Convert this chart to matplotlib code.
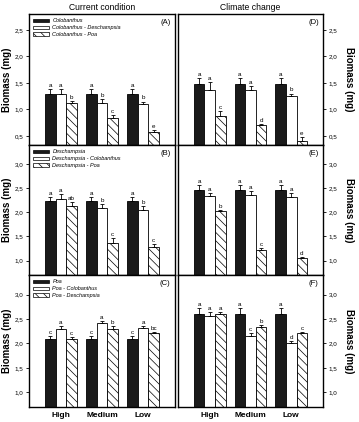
import matplotlib
matplotlib.use('Agg')
import matplotlib.pyplot as plt
from matplotlib.ticker import FuncFormatter
from matplotlib.patches import Patch
import numpy as np

plt.rcParams['font.family'] = ['Liberation Sans', 'DejaVu Sans']
plt.rcParams['hatch.linewidth'] = 0.5

levels = ['High', 'Medium', 'Low']

# rows: species alone, with 1st neighbour, with 2nd neighbour; cols: High, Medium, Low
colo_cur = [[1.30, 1.30, 1.30], [1.30, 1.12, 1.10], [1.12, 0.84, 0.58]]
colo_cur_err = [[0.08, 0.08, 0.08], [0.08, 0.08, 0.05], [0.04, 0.06, 0.04]]
colo_cur_let = [['a', 'a', 'a'], ['a', 'b', 'b'], ['b', 'c', 'e']]

colo_cc = [[1.48, 1.48, 1.48], [1.37, 1.36, 1.25], [0.87, 0.70, 0.40]]
colo_cc_err = [[0.11, 0.11, 0.11], [0.14, 0.08, 0.05], [0.10, 0.03, 0.08]]
colo_cc_let = [['a', 'a', 'a'], ['a', 'a', 'b'], ['c', 'd', 'e']]

desc_cur = [[2.24, 2.24, 2.24], [2.28, 2.09, 2.05], [2.13, 1.36, 1.28]]
desc_cur_err = [[0.08, 0.08, 0.08], [0.10, 0.08, 0.08], [0.08, 0.10, 0.07]]
desc_cur_let = [['a', 'a', 'a'], ['a', 'b', 'b'], ['ab', 'c', 'c']]

desc_cc = [[2.46, 2.46, 2.46], [2.35, 2.37, 2.33], [2.02, 1.22, 1.05]]
desc_cc_err = [[0.10, 0.10, 0.10], [0.06, 0.07, 0.07], [0.04, 0.05, 0.03]]
desc_cc_let = [['a', 'a', 'a'], ['a', 'a', 'a'], ['b', 'c', 'd']]

poa_cur = [[2.10, 2.10, 2.10], [2.29, 2.42, 2.31], [2.10, 2.30, 2.21]]
poa_cur_err = [[0.05, 0.05, 0.05], [0.07, 0.04, 0.04], [0.04, 0.05, 0.02]]
poa_cur_let = [['c', 'c', 'c'], ['a', 'a', 'a'], ['c', 'b', 'bc']]

poa_cc = [[2.60, 2.60, 2.60], [2.57, 2.15, 2.01], [2.60, 2.33, 2.21]]
poa_cc_err = [[0.13, 0.13, 0.13], [0.08, 0.07, 0.05], [0.05, 0.04, 0.03]]
poa_cc_let = [['a', 'a', 'a'], ['a', 'c', 'd'], ['a', 'b', 'c']]

legend_labels = {
    'colo': ['Colobanthus', 'Colobanthus - Deschampsia', 'Colobanthus - Poa'],
    'desc': ['Deschampsia', 'Deschampsia - Colobanthus', 'Deschampsia - Poa'],
    'poa': ['Poa', 'Poa - Colobanthus', 'Poa - Deschampsia'],
}

W, H = 359, 422
fig = plt.figure(figsize=(W / 100, H / 100), dpi=100)

row_edges = [(14, 145), (145, 275), (275, 407)]
col_edges = [(29, 175), (178, 323)]

panels = [
    # (row, col, means, errs, letters, tag, species, ylim, ticks)
    (0, 0, colo_cur, colo_cur_err, colo_cur_let, '(A)', 'colo', (0.33, 2.8), [0.5, 1.0, 1.5, 2.0, 2.5]),
    (1, 0, desc_cur, desc_cur_err, desc_cur_let, '(B)', 'desc', (0.7, 3.4), [1.0, 1.5, 2.0, 2.5, 3.0]),
    (2, 0, poa_cur, poa_cur_err, poa_cur_let, '(C)', 'poa', (0.7, 3.4), [1.0, 1.5, 2.0, 2.5, 3.0]),
    (0, 1, colo_cc, colo_cc_err, colo_cc_let, '(D)', None, (0.33, 2.8), [0.5, 1.0, 1.5, 2.0, 2.5]),
    (1, 1, desc_cc, desc_cc_err, desc_cc_let, '(E)', None, (0.7, 3.4), [1.0, 1.5, 2.0, 2.5, 3.0]),
    (2, 1, poa_cc, poa_cc_err, poa_cc_let, '(F)', None, (0.7, 3.4), [1.0, 1.5, 2.0, 2.5, 3.0]),
]

styles = [dict(color='#1a1a1a', hatch=None),
          dict(color='white', hatch=None),
          dict(color='white', hatch='\\\\\\\\')]

comma = FuncFormatter(lambda v, p: f'{v:.1f}'.replace('.', ','))
x = np.arange(len(levels))
bw = 0.26

for row, col, means, errs, lets, tag, sp, ylim, ticks in panels:
    x0, x1 = col_edges[col]
    y0, y1 = row_edges[row]
    ax = fig.add_axes([x0 / W, 1 - y1 / H, (x1 - x0) / W, (y1 - y0) / H])
    for i in range(3):
        xs = x + (i - 1) * bw
        m = np.array(means[i])
        e = np.array(errs[i])
        ax.bar(xs, m, bw, color=styles[i]['color'], hatch=styles[i]['hatch'],
               edgecolor='black', linewidth=0.6, zorder=2)
        ax.errorbar(xs, m, yerr=[np.zeros(3), e], fmt='none', ecolor='black',
                    elinewidth=0.6, capsize=1.6, capthick=0.6, zorder=3)
        for xi, mi, ei, lt in zip(xs, m, e, lets[i]):
            ax.text(xi, mi + ei + 0.02, lt, ha='center', va='bottom', fontsize=4.5)
    ax.set_xlim(-0.78, 2.78)
    ax.set_ylim(*ylim)
    ax.set_yticks(ticks)
    ax.yaxis.set_major_formatter(comma)
    ax.tick_params(axis='y', labelsize=4.5, length=2, width=0.6, pad=2)
    ax.tick_params(axis='x', length=0)
    for s in ax.spines.values():
        s.set_linewidth(1.0)
    if row == 2:
        ax.set_xticks(x)
        ax.set_xticklabels(levels, fontsize=6, fontweight='bold')
    else:
        ax.set_xticks([])
    ax.text(0.97, 0.96, tag, transform=ax.transAxes, ha='right', va='top', fontsize=5.5)
    if col == 0:
        ax.set_ylabel('Biomass (mg)', fontsize=7, fontweight='bold', labelpad=2)
    else:
        ax.yaxis.tick_right()
        ax.yaxis.set_label_position('right')
        ax.set_ylabel('Biomass (mg)', fontsize=7, fontweight='bold', rotation=270, labelpad=12)
    if sp is not None:
        handles = [Patch(facecolor=styles[i]['color'], edgecolor='black', linewidth=0.5,
                         hatch=styles[i]['hatch']) for i in range(3)]
        ax.legend(handles, legend_labels[sp], loc='upper left', frameon=False,
                  prop=dict(size=4, style='italic'), handlelength=2.8, handleheight=0.7,
                  labelspacing=0.35, handletextpad=0.6, borderaxespad=0.4)
    if row == 0:
        ax.set_title('Current condition' if col == 0 else 'Climate change', fontsize=6.2, pad=3)

fig.savefig('out.png', dpi=100)
